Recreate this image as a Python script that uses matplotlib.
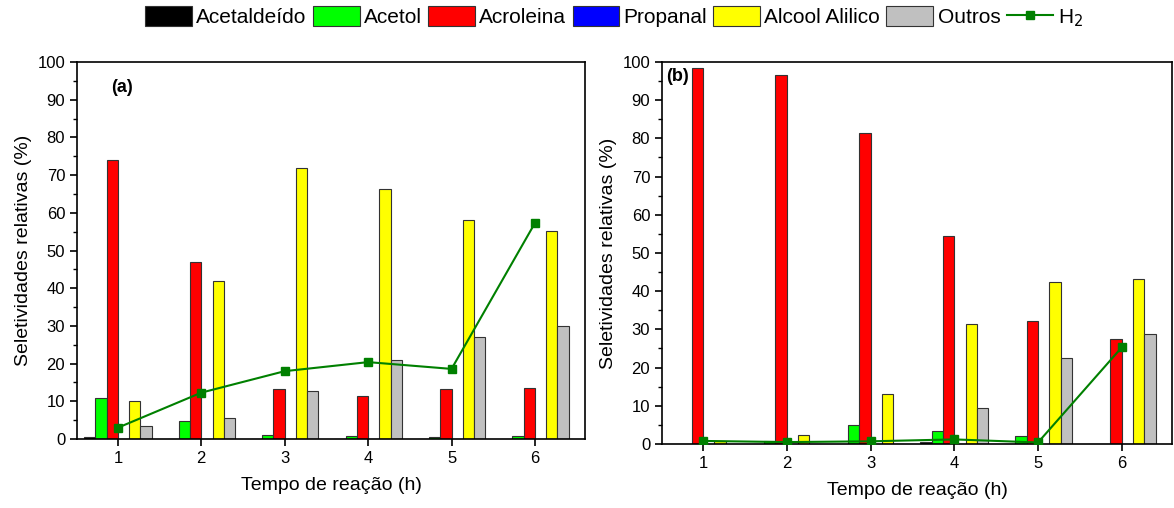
import matplotlib
matplotlib.use("Agg")
import matplotlib.pyplot as plt
import numpy as np
from matplotlib.ticker import MultipleLocator

plt.rcParams['font.family'] = ['Liberation Sans', 'DejaVu Sans']

tempo = [1, 2, 3, 4, 5, 6]
produtos = ["Acetaldeído", "Acetol", "Acroleina", "Propanal", "Alcool Alilico", "Outros"]
cores = ["#000000", "#00ff00", "#ff0000", "#0000ff", "#ffff00", "#c0c0c0"]

# painel (a)
a_acetaldeido = [0.5, 0.0, 0.0, 0.0, 0.0, 0.0]
a_acetol = [11.0, 4.7, 1.0, 0.7, 0.5, 0.7]
a_acroleina = [74.0, 47.0, 13.4, 11.3, 13.4, 13.6]
a_propanal = [0.0, 0.0, 0.0, 0.0, 0.0, 0.0]
a_alilico = [10.0, 42.0, 72.0, 66.2, 58.0, 55.2]
a_outros = [3.5, 5.7, 12.7, 21.0, 27.0, 30.0]
a_h2 = [3.0, 12.3, 18.0, 20.4, 18.6, 57.3]

# painel (b)
b_acetaldeido = [0.0, 0.0, 0.0, 0.4, 0.0, 0.0]
b_acetol = [0.0, 0.7, 5.0, 3.3, 2.0, 0.0]
b_acroleina = [98.5, 96.5, 81.5, 54.5, 32.3, 27.5]
b_propanal = [0.0, 0.0, 0.0, 0.0, 0.0, 0.0]
b_alilico = [0.8, 2.3, 13.2, 31.5, 42.5, 43.2]
b_outros = [0.0, 0.0, 0.0, 9.5, 22.5, 28.8]
b_h2 = [0.8, 0.5, 0.7, 1.2, 0.4, 25.3]

fig = plt.figure(figsize=(11.74, 5.08), dpi=100)
axa = fig.add_axes([0.0656, 0.1358, 0.4327, 0.742])
axb = fig.add_axes([0.5639, 0.126, 0.4344, 0.752])

largura = 0.135
x = np.array(tempo)

def painel(ax, series, h2, letra, lpos):
    barras = []
    for i, (vals, cor, nome) in enumerate(zip(series, cores, produtos)):
        b = ax.bar(x + (i - 2.5) * largura, vals, largura, color=cor,
                   edgecolor="#333333", linewidth=0.8, label=nome, zorder=2)
        barras.append(b)
    ln, = ax.plot(x, h2, color="#008000", marker="s", markersize=6,
                  linewidth=1.5, label="H$_2$", zorder=3)
    ax.set_xlim(0.51, 6.6)
    ax.set_ylim(0, 100)
    ax.set_xticks(tempo)
    ax.yaxis.set_major_locator(MultipleLocator(10))
    ax.yaxis.set_minor_locator(MultipleLocator(5))
    ax.tick_params(axis="both", direction="out", labelsize=12, width=1.2, length=5)
    ax.tick_params(axis="y", which="minor", direction="out", width=1, length=3)
    for s in ax.spines.values():
        s.set_linewidth(1.2)
    ax.set_xlabel("Tempo de reação (h)", fontsize=14, labelpad=8)
    ax.set_ylabel("Seletividades relativas (%)", fontsize=14)
    ax.text(lpos[0], lpos[1], letra, transform=ax.transAxes, fontsize=13,
            fontweight="bold", va="top", ha="left")
    return barras, ln

barras, ln = painel(axa, [a_acetaldeido, a_acetol, a_acroleina, a_propanal, a_alilico, a_outros],
                    a_h2, "(a)", (0.068, 0.955))
painel(axb, [b_acetaldeido, b_acetol, b_acroleina, b_propanal, b_alilico, b_outros],
       b_h2, "(b)", (0.008, 0.985))

handles = [b[0] for b in barras] + [ln]
labels = produtos + ["H$_2$"]
fig.legend(handles, labels, loc="upper center", bbox_to_anchor=(0.523, 1.012), ncol=7,
           frameon=False, fontsize=15, handlelength=2.25, handleheight=1.05,
           handletextpad=0.2, columnspacing=0.3, borderaxespad=0.2)

fig.savefig("out.png", dpi=100)
